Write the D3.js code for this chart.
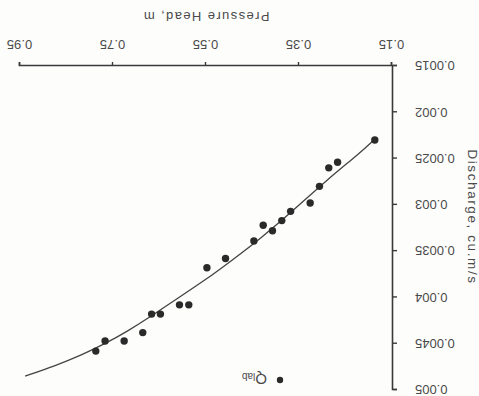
<!DOCTYPE html>
<html><head><meta charset="utf-8">
<script src="https://cdn.jsdelivr.net/npm/d3@7/dist/d3.min.js"></script>
<style>body{margin:0;background:#fff}svg{display:block}</style>
</head><body><svg id="c" width="479" height="396"></svg>
<script>
// ---- data ----
const xTicks = [0.15, 0.35, 0.55, 0.75, 0.95];
const xTickLabels = ["0.15", "0.35", "0.55", "0.75", "0.95"];
const yTicks = [0.0015, 0.002, 0.0025, 0.003, 0.0035, 0.004, 0.0045, 0.005];
const yTickLabels = ["0.0015", "0.002", "0.0025", "0.003", "0.0035", "0.004", "0.0045", "0.005"];
const headObs = [0.187, 0.267, 0.286, 0.306, 0.326, 0.368, 0.387, 0.407, 0.427, 0.447, 0.508, 0.548, 0.587, 0.607, 0.648, 0.667, 0.686, 0.726, 0.767, 0.787];
const qObs    = [0.00230, 0.00254, 0.00260, 0.00280, 0.00298, 0.00307, 0.00317, 0.00328, 0.00322, 0.00339, 0.00358, 0.00368, 0.00408, 0.00408, 0.00418, 0.00418, 0.00438, 0.00447, 0.00447, 0.00458];
const headFit = [0.187, 0.219, 0.290, 0.362, 0.434, 0.500, 0.548, 0.620, 0.670, 0.717, 0.767, 0.817, 0.875, 0.939];
const qFit    = [0.00229, 0.00244, 0.00273, 0.00306, 0.00337, 0.00362, 0.00380, 0.00404, 0.00421, 0.00436, 0.00450, 0.00462, 0.00474, 0.00485];
const xTitle = "Pressure Head, m";
const yTitle = "Discharge, cu.m/s";
const legendMain = "Q", legendSub = "lab";

// ---- drawing ----
const W = 479, H = 396;
const font = "'Liberation Sans', Arial, Helvetica, sans-serif";
const ink = "#3a3a3a", txt = "#4a4a4a";
const svg = d3.select("#c");
svg.append("rect").attr("width", W).attr("height", H).attr("fill", "#fdfdfc");
// the reference is printed upside down: draw normally, then turn 180°
const g = svg.append("g").attr("transform", `rotate(180,${W/2},${H/2})`);

const x = d3.scaleLinear().domain([0.15, 0.95]).range([87, 459]);
const y = d3.scaleLinear().domain([0.0015, 0.005]).range([330, 6]);

const xa = g.append("g").attr("transform", `translate(0,${y(0.0015)})`)
  .call(d3.axisBottom(x).tickValues(xTicks).tickSize(4).tickSizeOuter(4).tickPadding(13)
        .tickFormat((d, i) => xTickLabels[i]));
const ya = g.append("g").attr("transform", `translate(${x(0.15) - 1},0)`)
  .call(d3.axisLeft(y).tickValues(yTicks).tickSize(4).tickSizeOuter(4).tickPadding(18)
        .tickFormat((d, i) => yTickLabels[i]));
[xa, ya].forEach(a => {
  a.select(".domain").attr("stroke", ink).attr("stroke-width", 1.6);
  a.selectAll(".tick line").attr("stroke", ink).attr("stroke-width", 1.4);
  a.selectAll(".tick text").attr("fill", txt).style("font-family", font).style("font-size", "13px");
});

// fitted curve
const pts = headFit.map((h, i) => [h, qFit[i]]);
g.append("path").datum(pts)
  .attr("fill", "none").attr("stroke", "#444").attr("stroke-width", 1.3)
  .attr("d", d3.line().x(d => x(d[0])).y(d => y(d[1])).curve(d3.curveBasis));

// observed points
g.selectAll("circle.obs").data(headObs.map((h, i) => [h, qObs[i]])).enter()
  .append("circle").attr("class", "obs")
  .attr("cx", d => x(d[0])).attr("cy", d => y(d[1])).attr("r", 3.7).attr("fill", "#2a2a2a");

// axis titles
g.append("text").attr("x", (x(0.15) + x(0.95)) / 2).attr("y", 384)
  .attr("text-anchor", "middle").attr("fill", txt)
  .style("font-family", font).style("font-size", "13px").style("letter-spacing", "1.4px")
  .text(xTitle);
g.append("text").attr("transform", "translate(11,179) rotate(-90)")
  .attr("text-anchor", "middle").attr("fill", txt)
  .style("font-family", font).style("font-size", "13.5px").style("letter-spacing", "1.6px")
  .text(yTitle);

// legend
g.append("circle").attr("cx", 199).attr("cy", 16).attr("r", 3.2).attr("fill", "#2a2a2a");
const lt = g.append("text").attr("x", 212).attr("y", 22).attr("fill", txt)
  .style("font-family", font).style("font-size", "15px");
lt.append("tspan").text(legendMain);
lt.append("tspan").attr("dy", 1.5).style("font-size", "10px").text(legendSub);
</script></body></html>
